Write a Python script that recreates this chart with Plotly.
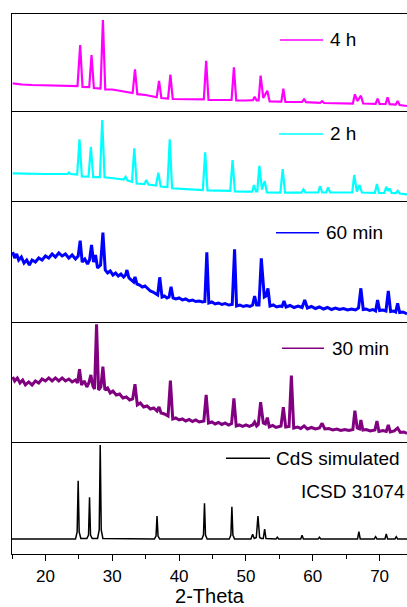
import plotly.graph_objects as go
from plotly.subplots import make_subplots

# ---------------- data (2-Theta, intensity a.u.) ----------------
x_range = [15, 74.1]
major_ticks = [20, 30, 40, 50, 60, 70]
series_names = ["4 h", "2 h", "60 min", "30 min", "CdS simulated"]
series_colors = ["#FF00FF", "#00FFFF", "#0000FF", "#800080", "#000000"]
reference_label = "ICSD 31074"
x_title = "2-Theta"

pts_4h = [(15.1, 26.7), (16.5, 25.5), (18, 25), (20, 24.5), (22, 24.2), (24.8, 24), (25.2, 65), (25.55, 23),
          (26.55, 22.8), (26.9, 55), (27.25, 22), (28.25, 21.5), (28.6, 90), (28.95, 20.7), (30, 20.5),
          (31, 19.3), (32, 18.5), (33.05, 17), (33.4, 40.7), (33.75, 15.8), (35, 15), (36.65, 12.8),
          (37.0, 29), (37.35, 12), (38.35, 11.5), (38.7, 35.3), (39.05, 11), (41, 10.8), (43.7, 10.7),
          (44.05, 49.3), (44.4, 10.2), (46, 10), (47.85, 10), (48.2, 42.7), (48.55, 9.5), (50, 9.5),
          (51.05, 9.8), (51.3, 13.3), (51.6, 9.5), (51.9, 9.5), (52.2, 34.3), (52.6, 12), (53.2, 19.3),
          (53.55, 8.5), (55.3, 8.3), (55.6, 21.3), (55.9, 8.1), (57, 8), (58.4, 8), (58.7, 10.7), (59.0, 7.8),
          (61.1, 7.2), (61.4, 8.8), (61.7, 7), (64, 6.8), (66.0, 6.5), (66.3, 15.7), (66.7, 9), (67.2, 14.3),
          (67.55, 6.5), (69.4, 6.2), (69.7, 11.3), (70.0, 6), (70.9, 6), (71.2, 12.7), (71.5, 5.8),
          (72.4, 5.5), (72.7, 9), (73.0, 5), (74.1, 4)]

pts_2h = [(15.1, 26.7), (17, 26.2), (20, 26), (23.3, 26), (23.5, 27.5), (23.8, 26), (24.75, 25.5), (25.1, 60.7),
          (25.45, 23.5), (26.45, 23.3), (26.8, 53.3), (27.15, 22.8), (28.15, 22.8), (28.5, 80), (28.85, 22.7),
          (30.5, 21.5), (31.7, 20.5), (32.0, 23.3), (32.3, 19.5), (32.95, 18.3), (33.3, 51.7), (33.65, 16.5),
          (34.8, 16), (35.1, 20), (35.4, 15.5), (36.55, 14.5), (36.9, 27.3), (37.25, 13.5), (38.25, 13),
          (38.6, 60.7), (38.95, 11.7), (41, 10.8), (43.55, 10), (43.9, 47.7), (44.25, 9.5), (46, 9.3),
          (47.65, 9.2), (48.0, 40), (48.35, 8.5), (50, 8.3), (50.95, 8.3), (51.2, 15), (51.5, 8.5), (51.7, 8.5),
          (52.0, 34.3), (52.4, 10.5), (52.8, 19), (53.15, 7.5), (55.15, 7.3), (55.5, 31), (55.85, 7.3),
          (58.3, 7.3), (58.6, 10.7), (58.9, 7.5), (60.8, 7.5), (61.1, 14), (61.4, 7.5), (62.0, 7.5),
          (62.3, 12.7), (62.6, 7.5), (65.9, 7.5), (66.2, 25), (66.6, 8.5), (67.0, 15), (67.35, 7.5),
          (69.3, 7.2), (69.6, 16), (69.9, 7), (70.7, 7), (71.0, 13.3), (71.25, 9), (71.5, 11.7), (71.8, 7),
          (72.4, 6.8), (72.7, 9.3), (73.0, 6.5), (74.1, 5.7)]

pts_60min = [(15.1, 70), (15.4, 64), (15.7, 68), (16.0, 62), (16.4, 65), (16.8, 59), (17.2, 62), (17.6, 57),
             (18.0, 62), (18.5, 60), (19.0, 64), (19.5, 62), (20.0, 66), (20.5, 64), (21.0, 68), (21.5, 65),
             (22.0, 69), (22.5, 66), (23.0, 68), (23.5, 64), (24.0, 67), (24.5, 63), (24.9, 66), (25.2, 81.3),
             (25.5, 60), (25.9, 63), (26.3, 58), (26.6, 62), (26.9, 77), (27.2, 60), (27.5, 67), (27.8, 54),
             (28.25, 57), (28.6, 89.3), (28.95, 52), (29.3, 49), (29.7, 51), (30.1, 47), (30.5, 49), (30.9, 46),
             (31.3, 48), (31.7, 45), (32.0, 47), (32.2, 52), (32.5, 44), (32.9, 42), (33.2, 40), (33.4, 45),
             (33.7, 38), (34.1, 37), (34.5, 35), (34.9, 36), (35.3, 33), (35.7, 31), (36.1, 30), (36.5, 28),
             (36.8, 27), (37.1, 44.7), (37.45, 25), (37.8, 26), (38.2, 24), (38.5, 25), (38.8, 35.3), (39.1, 24),
             (39.5, 23), (40.0, 24), (40.5, 22), (41.0, 23), (41.5, 21), (42.0, 22), (42.5, 20.5), (43.0, 21),
             (43.5, 20), (43.85, 20.5), (44.15, 69.7), (44.45, 19), (44.9, 20), (45.4, 18), (45.9, 19),
             (46.4, 17.5), (46.9, 18.5), (47.4, 17), (47.95, 17.5), (48.3, 72.7), (48.6, 16), (49.1, 17),
             (49.6, 15.5), (50.1, 16.5), (50.6, 15.5), (51.0, 17), (51.3, 26), (51.6, 17), (51.95, 17),
             (52.3, 63.7), (52.75, 25), (53.0, 26), (53.3, 33.7), (53.6, 16), (54.1, 17), (54.6, 15), (55.1, 16),
             (55.4, 15.5), (55.7, 21), (56.0, 15), (56.6, 16.5), (57.2, 14.5), (57.8, 16), (58.4, 14.5),
             (58.8, 22), (59.2, 14), (59.8, 15.5), (60.4, 13.5), (61.0, 15), (61.6, 13), (62.2, 14.5),
             (62.8, 12.5), (63.4, 14), (64.0, 12.5), (64.6, 13.5), (65.2, 12), (65.8, 13), (66.4, 12),
             (66.85, 14), (67.2, 33.7), (67.55, 12.5), (68.0, 13), (68.5, 11.5), (69.0, 12.5), (69.4, 11),
             (69.7, 22), (70.0, 11.5), (70.5, 12), (70.95, 11), (71.3, 31), (71.65, 10.5), (72.1, 11),
             (72.4, 10), (72.7, 18.7), (73.0, 9.5), (73.5, 10), (74.1, 8)]

pts_30min = [(15.1, 66), (15.4, 62), (15.8, 65), (16.2, 60), (16.6, 63), (17.0, 58), (17.5, 61), (18.0, 58),
             (18.5, 62), (19.0, 60), (19.5, 64), (20.0, 62), (20.5, 65), (21.0, 62), (21.5, 65), (22.0, 62),
             (22.5, 65), (23.0, 62), (23.5, 64), (24.0, 61), (24.5, 63), (24.8, 60), (25.1, 73.7), (25.4, 58),
             (25.8, 62), (26.2, 56), (26.5, 60), (26.8, 68), (27.1, 57), (27.35, 54), (27.65, 118.7), (27.95, 53),
             (28.3, 56), (28.6, 76.3), (28.9, 53), (29.3, 55), (29.7, 50), (30.1, 52), (30.6, 48), (31.1, 49),
             (31.6, 45), (32.1, 46), (32.6, 43), (33.05, 44), (33.4, 58.7), (33.75, 38), (34.2, 40), (34.7, 36),
             (35.2, 37), (35.7, 34), (36.2, 35), (36.7, 32), (37.0, 36), (37.3, 30), (37.8, 29), (38.35, 27),
             (38.7, 62.3), (39.05, 24), (39.5, 25), (40.0, 23), (40.5, 24), (41.0, 22), (41.5, 23.5), (42.0, 21.5),
             (42.5, 23), (43.0, 21), (43.7, 22), (44.05, 48), (44.4, 20), (44.9, 21), (45.4, 19), (45.9, 20.5),
             (46.4, 18.5), (46.9, 20), (47.4, 18), (47.85, 19.5), (48.2, 44.7), (48.55, 17), (49.0, 18),
             (49.5, 16.5), (50.0, 18), (50.5, 16.5), (51.0, 18), (51.3, 21), (51.6, 17), (51.85, 18.5),
             (52.2, 40.7), (52.6, 20), (52.9, 19), (53.2, 25.3), (53.5, 16), (54.0, 17.5), (54.5, 15.5),
             (55.25, 17), (55.6, 35.7), (55.95, 16), (56.45, 16.5), (56.8, 67.3), (57.15, 15), (57.7, 16),
             (58.2, 14.5), (58.7, 17), (59.2, 14), (59.8, 15.5), (60.4, 14), (61.0, 15), (61.4, 19.7), (61.8, 14),
             (62.4, 14.5), (63.0, 13), (63.6, 14), (64.2, 12.5), (64.8, 13.5), (65.4, 12.5), (66.0, 13.5),
             (66.3, 32.3), (66.65, 15), (67.0, 14), (67.2, 23), (67.5, 13), (68.0, 13.5), (68.6, 12), (69.3, 13),
             (69.6, 22), (69.9, 11.5), (70.5, 12.5), (71.0, 11.5), (71.3, 18), (71.6, 11), (72.2, 12), (72.7, 15),
             (73.1, 10.5), (73.6, 11), (74.1, 9.7)]

pts_sim = [(15, 15), (24.5, 15), (24.75, 22), (24.9, 73.3), (25.05, 22), (25.3, 15.5), (26.2, 15.5), (26.45, 19),
           (26.6, 56.7), (26.75, 19), (27.0, 15.5), (27.8, 15.5), (28.05, 24), (28.2, 109), (28.35, 24),
           (28.6, 15.5), (36.3, 15), (36.55, 18), (36.7, 38), (36.85, 18), (37.1, 15), (43.4, 15), (43.65, 19),
           (43.8, 50.7), (43.95, 19), (44.2, 15), (47.5, 15), (47.75, 19), (47.9, 47.3), (48.05, 19), (48.3, 15),
           (50.75, 15), (51.0, 19.7), (51.25, 15.5), (51.55, 16.5), (51.8, 38), (52.05, 16.5), (52.3, 15.5),
           (52.6, 15.5), (52.8, 25), (53.0, 15.5), (54.5, 15), (54.7, 16.7), (54.9, 15), (58.2, 15), (58.4, 18.7),
           (58.6, 15), (60.8, 15), (61.0, 16.7), (61.2, 15), (66.7, 15), (66.9, 22.3), (67.1, 15), (69.2, 15),
           (69.4, 17.3), (69.6, 15), (70.8, 15), (71.0, 20), (71.2, 15), (72.3, 15), (72.5, 17.3), (72.7, 15),
           (74.1, 15)]

series_points = [pts_4h, pts_2h, pts_60min, pts_30min, pts_sim]
line_widths = [2.2, 2.2, 3.0, 3.0, 1.5]
panel_ranges = [[-0.7, 96], [-0.5, 89.3], [0.3, 121.5], [0.7, 121.3], [0, 111.7]]
panel_domains = [[0.8209, 1.0], [0.6546, 0.8209], [0.4302, 0.6546], [0.2069, 0.4302], [0.0, 0.2069]]

# legend placement (paper coords): line x0, x1, y, text x
legend_pos = [(0.6785, 0.7873, 0.9519, 0.800),
              (0.6759, 0.7873, 0.7778, 0.800),
              (0.6684, 0.7772, 0.5950, 0.7911),
              (0.6835, 0.7899, 0.3809, 0.8051),
              (0.5418, 0.6532, 0.1772, 0.6633)]

FONT = "Liberation Sans, Arial, sans-serif"

fig = make_subplots(rows=5, cols=1, shared_xaxes=True, vertical_spacing=0)

for i, (pts, name, col, lw) in enumerate(zip(series_points, series_names, series_colors, line_widths)):
    xs = [p[0] for p in pts]
    ys = [p[1] for p in pts]
    fig.add_trace(go.Scatter(x=xs, y=ys, mode="lines", name=name,
                             line=dict(color=col, width=lw), showlegend=False,
                             hoverinfo="skip"), row=i + 1, col=1)

for i in range(5):
    r = i + 1
    last = (r == 5)
    fig.update_xaxes(range=x_range, showline=True, linecolor="black", linewidth=1.4,
                     mirror=(r == 1),
                     showgrid=False, zeroline=False,
                     ticks="outside" if last else "", ticklen=6, tickwidth=1.3, tickcolor="black",
                     tickvals=major_ticks if last else [],
                     showticklabels=last,
                     tickfont=dict(family=FONT, size=17, color="black"),
                     row=r, col=1)
    fig.update_yaxes(range=panel_ranges[i], domain=panel_domains[i], showline=True, linecolor="black",
                     linewidth=1.4, mirror=False, showgrid=False, zeroline=False, ticks="",
                     showticklabels=False, row=r, col=1)

fig.update_xaxes(minor=dict(ticks="outside", ticklen=3.5, tickwidth=1.3, tickcolor="black",
                            tickvals=[15, 25, 35, 45, 55, 65]),
                 title=dict(text=x_title, font=dict(family=FONT, size=20, color="black"), standoff=4),
                 row=5, col=1)

shapes = []
annotations = []
for (x0, x1, y, tx), name, col in zip(legend_pos, series_names, series_colors):
    shapes.append(dict(type="line", xref="paper", yref="paper", x0=x0, x1=x1, y0=y, y1=y,
                       line=dict(color=col, width=1.5)))
    annotations.append(dict(xref="paper", yref="paper", x=tx, y=y, text=name, showarrow=False,
                            xanchor="left", yanchor="middle",
                            font=dict(family=FONT, size=19, color="black")))
annotations.append(dict(xref="paper", yref="paper", x=0.7278, y=0.1154, text=reference_label,
                        showarrow=False, xanchor="left", yanchor="middle",
                        font=dict(family=FONT, size=19, color="black")))

fig.update_layout(width=407, height=607, margin=dict(l=12, r=0, t=14, b=53),
                  paper_bgcolor="white", plot_bgcolor="white",
                  shapes=shapes, annotations=annotations, showlegend=False)

fig.write_html("out.html")
